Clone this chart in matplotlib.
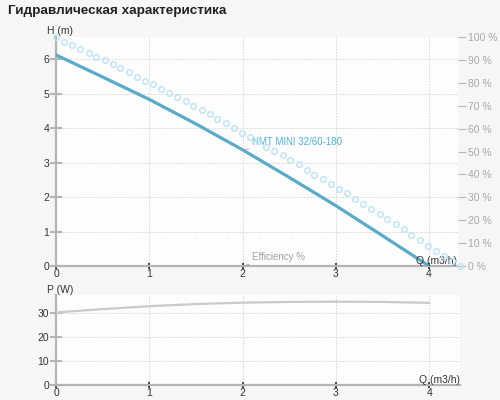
import matplotlib
matplotlib.use("Agg")
import matplotlib.pyplot as plt

plt.rcParams['font.family'] = ['Liberation Sans', 'DejaVu Sans']

title = "Гидравлическая характеристика"
model = "NMT MINI 32/60-180"

# head curve H (m)
h_q = [0, 0.5, 1.0, 1.5, 2.0, 2.5, 3.0, 3.5, 4.0]
h_val = [6.12, 5.48, 4.83, 4.12, 3.37, 2.57, 1.75, 0.88, 0.0]

# efficiency (%) - open circle markers
eff_q = [0, 0.09, 0.17, 0.26, 0.35, 0.43, 0.52, 0.61, 0.69, 0.78,
         0.87, 0.95, 1.04, 1.13, 1.21, 1.30, 1.39, 1.47, 1.56, 1.65,
         1.73, 1.82, 1.91, 1.99, 2.08, 2.17, 2.25, 2.34, 2.43, 2.51,
         2.60, 2.69, 2.77, 2.86, 2.95, 3.03, 3.12, 3.21, 3.29, 3.38,
         3.47, 3.55, 3.64, 3.73, 3.81, 3.90, 3.99, 4.07, 4.16, 4.25, 4.33]
eff_val = [100, 97.9, 96.4, 94.8, 93.1, 91.4, 89.8, 88.1, 86.3, 84.6,
           82.7, 80.9, 79.3, 77.4, 75.5, 73.7, 71.9, 70.0, 68.1, 66.2,
           64.3, 62.4, 60.3, 58.2, 56.5, 54.4, 52.1, 50.3, 48.5, 46.3,
           44.4, 41.9, 39.9, 37.9, 35.7, 33.5, 31.7, 29.4, 27.1, 24.9,
           22.7, 20.4, 18.3, 16.0, 13.7, 11.2, 8.9, 6.7, 4.4, 2.2, 0]

# power P (W)
p_q = [0, 0.5, 1.0, 1.5, 2.0, 2.5, 3.0, 3.5, 4.0]
p_val = [30.4, 31.8, 33.0, 33.9, 34.5, 34.8, 34.9, 34.8, 34.4]

x_ticks = [0, 1, 2, 3, 4]
h_ticks = [0, 1, 2, 3, 4, 5, 6]
eff_ticks = [0, 10, 20, 30, 40, 50, 60, 70, 80, 90, 100]
p_ticks = [0, 10, 20, 30]

blue = '#5aaac8'
light_blue = '#c2e4f4'
axis_gray = '#b4b4b4'
txt = '#333333'

fig = plt.figure(figsize=(5, 4), dpi=100, facecolor='#f6f6f6')
fig.text(0.016, 0.972, title, fontsize=9.7, fontweight='bold', color='#222222',
         va='center', ha='left')


def style_axes(ax, yticks):
    ax.set_facecolor('#fdfdfd')
    for s in ['top', 'right']:
        ax.spines[s].set_visible(False)
    for s in ['left', 'bottom']:
        ax.spines[s].set_color(axis_gray)
        ax.spines[s].set_linewidth(1.6)
    ax.set_xticks(x_ticks)
    ax.set_yticks(yticks)
    ax.tick_params(axis='x', direction='inout', length=5, width=1.3, color=txt,
                   labelsize=7.5, labelcolor=txt, pad=0)
    ax.tick_params(axis='y', direction='inout', length=8, width=1.5, color=axis_gray,
                   labelsize=7.5, labelcolor=txt, pad=1)
    ax.grid(True, color='#d4d4d4', linestyle=(0, (2, 1.5)), linewidth=0.6)
    ax.set_axisbelow(True)


# top chart: head + efficiency
ax1 = fig.add_axes([0.112, 0.335, 0.804, 0.5725])
style_axes(ax1, h_ticks)
ax1.set_xlim(0, 4.31)
ax1.set_ylim(0, 6.64)
ax1.plot(h_q, h_val, color=blue, linewidth=2.3, solid_capstyle='round', zorder=4)

ax2 = ax1.twinx()
ax2.set_ylim(0, 100)
ax2.plot(eff_q, eff_val, linestyle='none', marker='o', markersize=4,
         markerfacecolor='none', markeredgecolor=light_blue, markeredgewidth=1.1,
         clip_on=False, zorder=3)
for s in ['top', 'right', 'left', 'bottom']:
    ax2.spines[s].set_visible(False)
ax2.set_yticks(eff_ticks)
ax2.set_yticklabels([f"{v} %" for v in eff_ticks])
ax2.tick_params(axis='y', direction='out', length=6, width=0.8, color='#b8b8b8',
                labelsize=7.5, labelcolor='#a8a8a8', pad=1)

ax1.text(-0.1, 6.82, "H (m)", fontsize=7.5, color=txt, ha='left', va='center')
ax1.text(4.3, 0.15, "Q (m3/h)", fontsize=7.5, color=txt, ha='right', va='center',
         zorder=6)
ax1.annotate(model, xy=(2.0, 3.37), xytext=(2.1, 3.59), fontsize=7, color='#4fb0d8',
             va='center', ha='left',
             arrowprops=dict(arrowstyle='-', color='#a0a0a0', linewidth=0.6,
                             shrinkA=0, shrinkB=0), zorder=6)
ax1.annotate("Efficiency %", xy=(2.0, 0.0), xytext=(2.1, 0.25), fontsize=7,
             color='#a0a0a0', va='center', ha='left',
             arrowprops=dict(arrowstyle='-', color='#a0a0a0', linewidth=0.6,
                             shrinkA=0, shrinkB=0), zorder=6)

# bottom chart: power
ax3 = fig.add_axes([0.112, 0.0375, 0.808, 0.225])
style_axes(ax3, p_ticks)
ax3.set_xlim(0, 4.33)
ax3.set_ylim(0, 37.7)
ax3.plot(p_q, p_val, color='#cacaca', linewidth=1.6, zorder=3)
ax3.text(-0.1, 40, "P (W)", fontsize=7.5, color=txt, ha='left', va='center',
         clip_on=False)
ax3.text(4.33, 2.1, "Q (m3/h)", fontsize=7.5, color=txt, ha='right', va='center')

fig.savefig('out.png', dpi=100, facecolor=fig.get_facecolor())
